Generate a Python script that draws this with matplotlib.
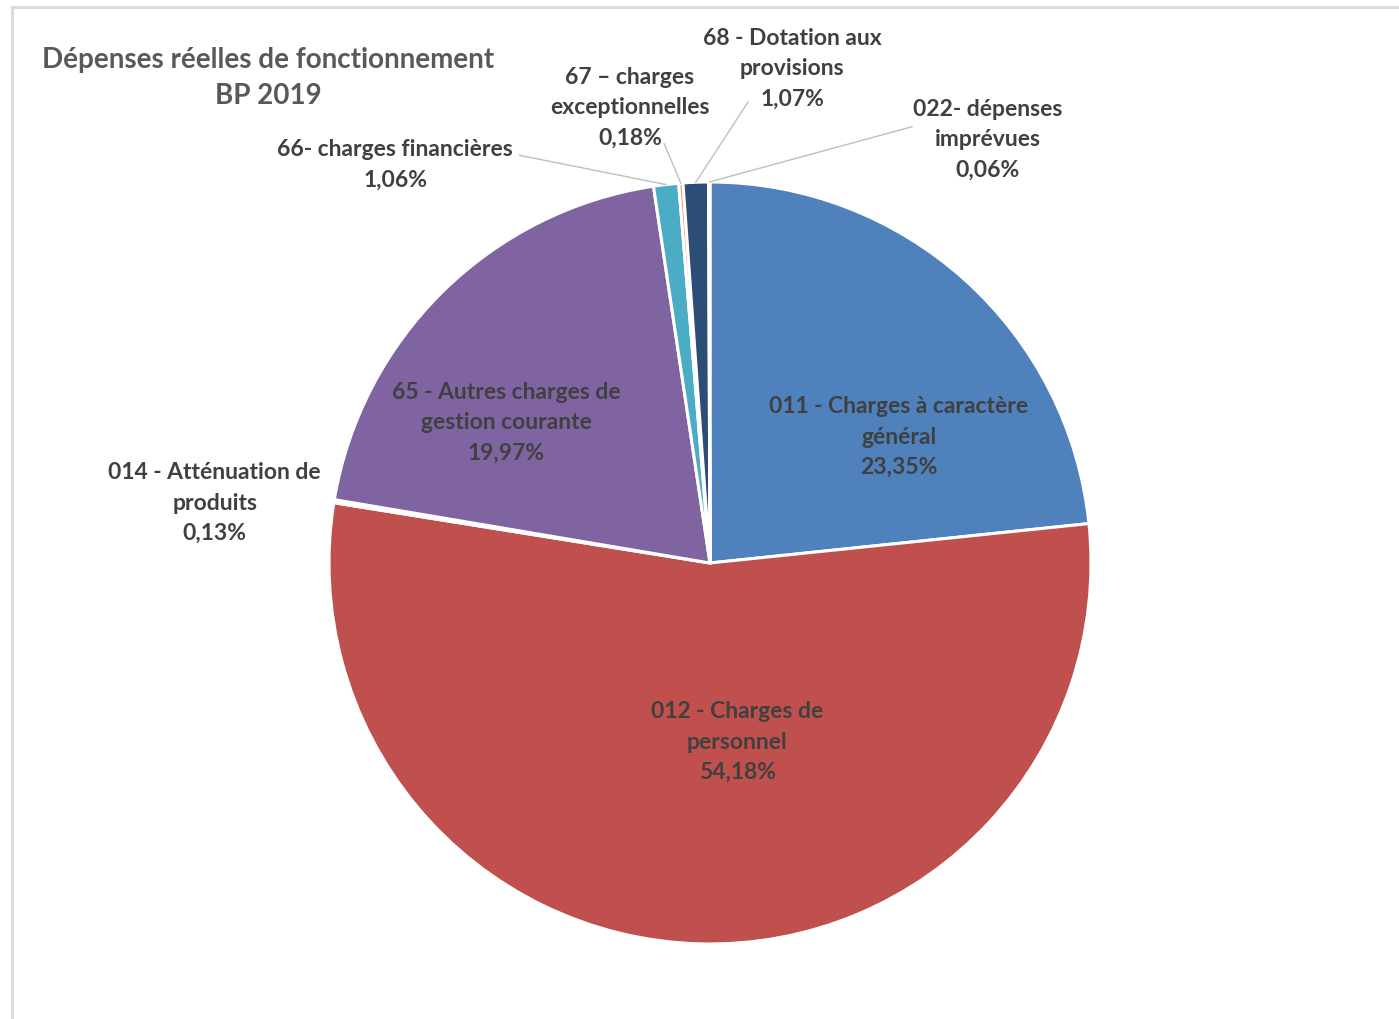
import numpy as np
import matplotlib
matplotlib.use("Agg")
import matplotlib.pyplot as plt
from matplotlib.lines import Line2D

plt.rcParams['font.family'] = ['Lato', 'DejaVu Sans']

# ---- data ----
categories = [
    "011 - Charges à caractère\ngénéral",
    "012 - Charges de\npersonnel",
    "014 - Atténuation de\nproduits",
    "65 - Autres charges de\ngestion courante",
    "66- charges financières",
    "67 – charges\nexceptionnelles",
    "68 - Dotation aux\nprovisions",
    "022- dépenses\nimprévues",
]
values = [23.35, 54.18, 0.13, 19.97, 1.06, 0.18, 1.07, 0.06]
pct_labels = ["23,35%", "54,18%", "0,13%", "19,97%", "1,06%", "0,18%", "1,07%", "0,06%"]
colors = ["#4F81BD", "#C0504D", "#9BBB59", "#8064A2", "#4BACC6", "#F79646", "#2C4D75", "#772C2A"]

# label placement (data coords, pie radius = 1)
label_pos = [(0.495, 0.333), (0.071, -0.468), (-1.30, 0.16), (-0.534, 0.371),
             (-0.826, 1.047), (-0.21, 1.197), (0.216, 1.30), (0.729, 1.113)]
leader_start = [None, None, None, None, (-0.50, 1.07), (-0.12, 1.10), (0.10, 1.21), (0.53, 1.145)]

W, H = 1399, 1020
fig = plt.figure(figsize=(W / 100, H / 100), dpi=100)
fig.patch.set_facecolor("white")

cx, cy, R = 710, 564, 381
ax = fig.add_axes([(cx - R) / W, (H - cy - R) / H, 2 * R / W, 2 * R / H])
wedges, _ = ax.pie(values, colors=colors, startangle=90, counterclock=False,
                   radius=1.0, wedgeprops=dict(edgecolor="white", linewidth=2.2))
ax.set_xlim(-1, 1)
ax.set_ylim(-1, 1)
ax.set_aspect("equal")
ax.axis("off")

txtcol = "#404040"
for i, w in enumerate(wedges):
    x, y = label_pos[i]
    ax.text(x, y, categories[i] + "\n" + pct_labels[i], ha="center", va="center",
            fontsize=16.5, fontweight="bold", color=txtcol, linespacing=1.55,
            clip_on=False)
    if leader_start[i] is not None:
        ang = np.deg2rad((w.theta1 + w.theta2) / 2)
        ex, ey = np.cos(ang) * 1.0, np.sin(ang) * 1.0
        sx, sy = leader_start[i]
        ax.add_line(Line2D([sx, ex], [sy, ey], color="#BFBFBF", lw=1.0, clip_on=False))

# title
fig.text(268 / W, 1 - 78 / H, "Dépenses réelles de fonctionnement\nBP 2019", ha="center",
         va="center", fontsize=20, fontweight="bold", color="#595959", linespacing=1.45)

# chart border
fig.add_artist(Line2D([12 / W, 12 / W], [0, 1 - 8 / H], transform=fig.transFigure,
                      color="#D9D9D9", lw=2))
fig.add_artist(Line2D([12 / W, 1], [1 - 8 / H, 1 - 8 / H], transform=fig.transFigure,
                      color="#D9D9D9", lw=2))

fig.savefig("out.png", dpi=100, facecolor="white")
